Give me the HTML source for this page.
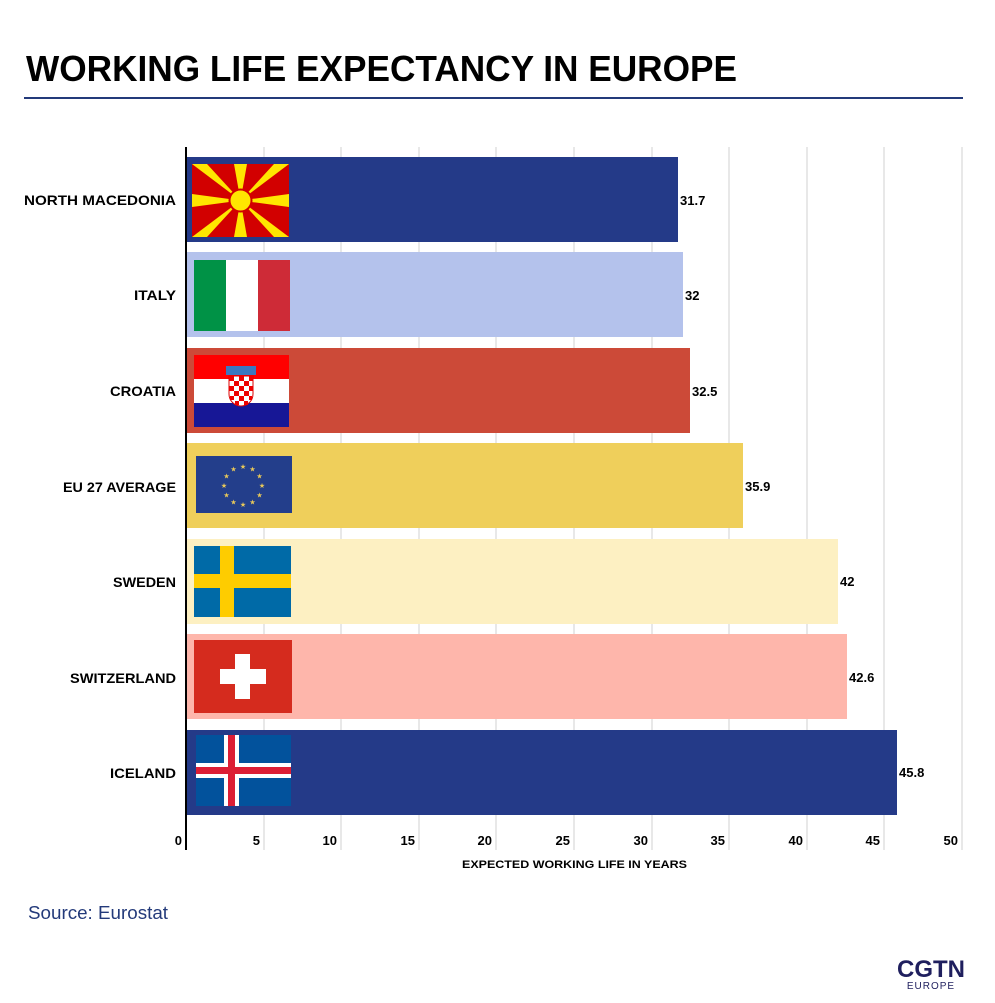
<!DOCTYPE html>
<html><head><meta charset="utf-8"><style>body{margin:0;background:#fff}svg{display:block}</style></head><body>
<svg width="995" height="1003" viewBox="0 0 995 1003" xmlns="http://www.w3.org/2000/svg" font-family="'Liberation Sans', sans-serif">
<text x="26" y="81" font-size="36" font-weight="bold" fill="#000" textLength="711" lengthAdjust="spacingAndGlyphs">WORKING LIFE EXPECTANCY IN EUROPE</text>
<rect x="24" y="97" width="939" height="2" fill="#233a7a"/>
<g stroke="#d0d0d0" stroke-width="1">
<line x1="264" y1="147" x2="264" y2="850"/><line x1="341" y1="147" x2="341" y2="850"/><line x1="419" y1="147" x2="419" y2="850"/><line x1="496" y1="147" x2="496" y2="850"/><line x1="574" y1="147" x2="574" y2="850"/><line x1="652" y1="147" x2="652" y2="850"/><line x1="729" y1="147" x2="729" y2="850"/><line x1="807" y1="147" x2="807" y2="850"/><line x1="884" y1="147" x2="884" y2="850"/><line x1="962" y1="147" x2="962" y2="850"/>
</g>
<rect x="186" y="157" width="492" height="85" fill="#243a88"/>
<rect x="186" y="252" width="497" height="85" fill="#b4c2ec"/>
<rect x="186" y="348" width="504" height="85" fill="#cc4a38"/>
<rect x="186" y="443" width="557" height="85" fill="#efcf5b"/>
<rect x="186" y="539" width="652" height="85" fill="#fdf0c2"/>
<rect x="186" y="634" width="661" height="85" fill="#feb6ab"/>
<rect x="186" y="730" width="711" height="85" fill="#243a88"/>
<line x1="186" y1="147" x2="186" y2="850" stroke="#000" stroke-width="2"/>
<svg x="192" y="164" width="97" height="73" viewBox="0 0 97 73">
<rect width="97" height="73" fill="#d20000"/>
<g fill="#ffe600">
<polygon points="0,0 15,0 48.5,36.5"/><polygon points="97,0 82,0 48.5,36.5"/><polygon points="0,73 15,73 48.5,36.5"/><polygon points="97,73 82,73 48.5,36.5"/>
<polygon points="42,0 55,0 48.5,36.5"/><polygon points="42,73 55,73 48.5,36.5"/><polygon points="0,30 0,43 48.5,36.5"/><polygon points="97,30 97,43 48.5,36.5"/>
<circle cx="48.5" cy="36.5" r="11" stroke="#d20000" stroke-width="2"/>
</g></svg>
<rect x="194" y="260" width="32" height="71" fill="#009246"/><rect x="226" y="260" width="32" height="71" fill="#fff"/><rect x="258" y="260" width="32" height="71" fill="#ce2b37"/>
<rect x="194" y="355" width="95" height="24" fill="#ff0000"/><rect x="194" y="379" width="95" height="24" fill="#fff"/><rect x="194" y="403" width="95" height="24" fill="#171796"/>
<rect x="226" y="366" width="30" height="9" fill="#3a78c0"/>
<path d="M229,376 h24 v18 a12,12 0 0 1 -24,0 z" fill="#fff" stroke="#d00" stroke-width="1"/>
<g fill="#e00"><rect x="229" y="376" width="5" height="5"/><rect x="239" y="376" width="5" height="5"/><rect x="249" y="376" width="4" height="5"/><rect x="234" y="381" width="5" height="5"/><rect x="244" y="381" width="5" height="5"/><rect x="229" y="386" width="5" height="5"/><rect x="239" y="386" width="5" height="5"/><rect x="249" y="386" width="4" height="5"/><rect x="234" y="391" width="5" height="5"/><rect x="244" y="391" width="5" height="5"/><rect x="230" y="396" width="4" height="4"/><rect x="239" y="396" width="5" height="5"/><rect x="249" y="396" width="3" height="4"/><rect x="235" y="401" width="4" height="4"/><rect x="244" y="401" width="4" height="4"/></g>
<rect x="196" y="456" width="96" height="57" fill="#233e8b"/>
<g fill="#e8c85a" font-size="7" text-anchor="middle">
<text x="243" y="469">★</text><text x="252.5" y="471.5">★</text><text x="259.5" y="478.5">★</text><text x="262" y="488">★</text><text x="259.5" y="497.5">★</text><text x="252.5" y="504.5">★</text><text x="243" y="507">★</text><text x="233.5" y="504.5">★</text><text x="226.5" y="497.5">★</text><text x="224" y="488">★</text><text x="226.5" y="478.5">★</text><text x="233.5" y="471.5">★</text>
</g>
<rect x="194" y="546" width="97" height="71" fill="#006aa7"/><rect x="194" y="574" width="97" height="14" fill="#fecc00"/><rect x="220" y="546" width="14" height="71" fill="#fecc00"/>
<rect x="194" y="640" width="98" height="73" fill="#d52b1e"/><rect x="220" y="669" width="46" height="15" fill="#fff"/><rect x="235" y="654" width="15" height="45" fill="#fff"/>
<rect x="196" y="735" width="95" height="71" fill="#02529c"/><rect x="196" y="763" width="95" height="15" fill="#fff"/><rect x="224" y="735" width="15" height="71" fill="#fff"/><rect x="196" y="767" width="95" height="7" fill="#dc1e35"/><rect x="228" y="735" width="7" height="71" fill="#dc1e35"/>
<g font-size="14" font-weight="bold" fill="#000" lengthAdjust="spacingAndGlyphs">
<text x="24" y="205" textLength="152" lengthAdjust="spacingAndGlyphs">NORTH MACEDONIA</text>
<text x="134" y="300" textLength="42" lengthAdjust="spacingAndGlyphs">ITALY</text>
<text x="110" y="396" textLength="66" lengthAdjust="spacingAndGlyphs">CROATIA</text>
<text x="63" y="492" textLength="113" lengthAdjust="spacingAndGlyphs">EU 27 AVERAGE</text>
<text x="113" y="587" textLength="63" lengthAdjust="spacingAndGlyphs">SWEDEN</text>
<text x="70" y="683" textLength="106" lengthAdjust="spacingAndGlyphs">SWITZERLAND</text>
<text x="110" y="778" textLength="66" lengthAdjust="spacingAndGlyphs">ICELAND</text>
</g>
<g font-size="13" font-weight="bold" fill="#000">
<text x="680" y="205">31.7</text><text x="685" y="300">32</text><text x="692" y="396">32.5</text><text x="745" y="491">35.9</text><text x="840" y="586">42</text><text x="849" y="682">42.6</text><text x="899" y="777">45.8</text>
</g>
<g font-size="13" font-weight="bold" fill="#000" text-anchor="end">
<text x="182" y="845">0</text><text x="260" y="845">5</text><text x="337" y="845">10</text><text x="415" y="845">15</text><text x="492" y="845">20</text><text x="570" y="845">25</text><text x="648" y="845">30</text><text x="725" y="845">35</text><text x="803" y="845">40</text><text x="880" y="845">45</text><text x="958" y="845">50</text>
</g>
<text x="462" y="868" font-size="11" font-weight="bold" textLength="225" lengthAdjust="spacingAndGlyphs">EXPECTED WORKING LIFE IN YEARS</text>
<text x="28" y="919" font-size="18" fill="#233a7a" textLength="140" lengthAdjust="spacingAndGlyphs">Source: Eurostat</text>
<text x="931" y="977" font-size="24" font-weight="bold" fill="#1f1f5e" text-anchor="middle" textLength="68" lengthAdjust="spacingAndGlyphs">CGTN</text>
<text x="931" y="989" font-size="10" fill="#1f1f5e" text-anchor="middle" letter-spacing="1">EUROPE</text>
</svg>
</body></html>
